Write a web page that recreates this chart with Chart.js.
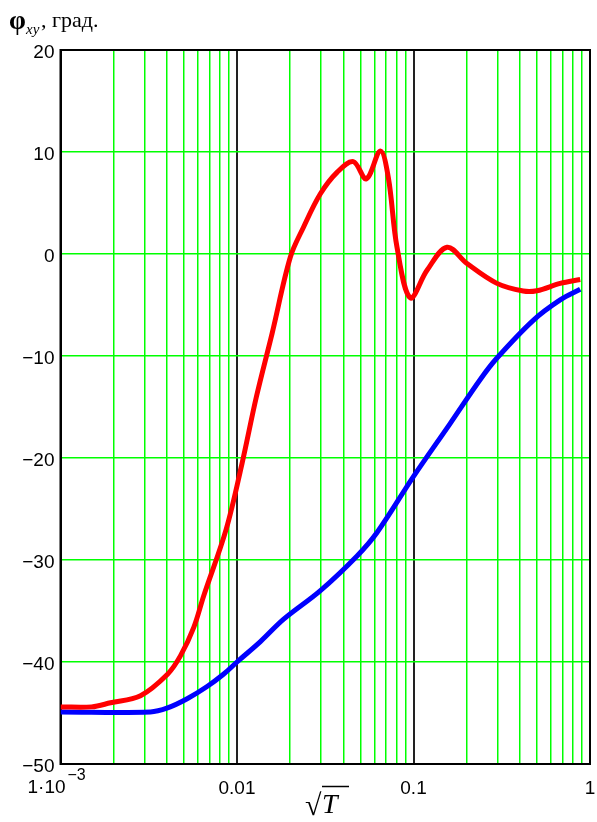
<!DOCTYPE html>
<html>
<head>
<meta charset="utf-8">
<script src="https://cdn.jsdelivr.net/npm/chart.js@4/dist/chart.umd.min.js"></script>
<style>
html,body{margin:0;padding:0;background:#fff;}
#wrap{width:597px;height:822px;position:relative;}
</style>
</head>
<body>
<div id="wrap"><canvas id="c" width="597" height="822"></canvas></div>
<script>
// sqrt(T) values (x) and phase angle, degrees (y)
const redX = [0.001, 0.0015, 0.00192, 0.00284, 0.00404, 0.00478, 0.00569, 0.00648, 0.00868, 0.01069, 0.01288, 0.0158, 0.02006, 0.02377, 0.02968, 0.03687, 0.04561, 0.05403, 0.06486, 0.072, 0.08064, 0.0959, 0.1193, 0.1548, 0.2009, 0.2971, 0.4183, 0.5002, 0.678, 0.88];
const redY = [-44.4, -44.4, -44.0, -43.3, -41.2, -39.4, -36.6, -33.5, -27.0, -20.5, -14.0, -7.8, -0.3, 2.6, 5.9, 8.0, 9.06, 7.37, 10.1, 7.5, 0.66, -4.3, -1.6, 0.66, -0.93, -2.88, -3.63, -3.6, -2.88, -2.5];
const blueX = [0.001, 0.00323, 0.00404, 0.00522, 0.00677, 0.00838, 0.01, 0.01357, 0.01838, 0.02968, 0.04788, 0.06214, 0.1001, 0.1616, 0.2389, 0.2971, 0.477, 0.678, 0.88];
const blueY = [-44.9, -44.9, -44.5, -43.6, -42.4, -41.2, -40.0, -38.0, -35.8, -33.0, -29.6, -27.3, -21.8, -16.6, -12.3, -10.2, -6.5, -4.5, -3.45];
const yTicks = [-50, -40, -30, -20, -10, 0, 10, 20];
const xLabels = {0.01: '0.01', 0.1: '0.1', 1: '1'};

Chart.defaults.font.family = "'Liberation Sans', Arial, sans-serif";
Chart.defaults.color = '#000';

const toPts = (xs, ys) => xs.map((x, i) => ({x: x, y: ys[i]}));
const isDecade = v => Math.abs(Math.log10(v) - Math.round(Math.log10(v))) < 1e-6;

const decor = {
  id: 'decor',
  beforeDatasetsDraw(chart) {
    const {ctx, chartArea: a} = chart;
    ctx.save();
    ctx.strokeStyle = '#000';
    ctx.lineWidth = 2;
    ctx.strokeRect(a.left, a.top, a.right - a.left, a.bottom - a.top);
    ctx.restore();
  },
  afterDraw(chart) {
    const {ctx} = chart;
    const xs = chart.scales.x;
    ctx.save();
    ctx.fillStyle = '#000';
    ctx.strokeStyle = '#000';
    ctx.textBaseline = 'alphabetic';
    // 1·10^-3 label
    const x0 = xs.getPixelForValue(0.001);
    ctx.font = "19px 'Liberation Sans', Arial, sans-serif";
    ctx.textAlign = 'left';
    ctx.fillText('1\u00b710', x0 - 33, 793);
    ctx.font = "16px 'Liberation Sans', Arial, sans-serif";
    ctx.fillText('\u22123', x0 + 7, 780);
    // axis title sqrt(T)
    ctx.font = "30px 'Liberation Serif', 'Times New Roman', serif";
    ctx.fillText('\u221a', 305, 815);
    ctx.font = "italic 28px 'Liberation Serif', 'Times New Roman', serif";
    ctx.fillText('T', 322, 813);
    ctx.lineWidth = 1.5;
    ctx.beginPath();
    ctx.moveTo(322, 786.5);
    ctx.lineTo(349, 786.5);
    ctx.stroke();
    // y title
    ctx.font = "bold 27px 'Liberation Serif', 'Times New Roman', serif";
    ctx.fillText('\u03c6', 9, 29);
    ctx.font = "italic 15px 'Liberation Serif', 'Times New Roman', serif";
    ctx.fillText('xy', 26, 34);
    ctx.font = "22px 'Liberation Serif', 'Times New Roman', serif";
    ctx.fillText(', \u0433\u0440\u0430\u0434.', 41, 27);
    ctx.restore();
  }
};

new Chart(document.getElementById('c'), {
  type: 'line',
  data: {
    datasets: [
      {data: toPts(redX, redY), borderColor: '#ff0000', borderWidth: 5, pointRadius: 0, tension: 0.35, fill: false},
      {data: toPts(blueX, blueY), borderColor: '#0000ff', borderWidth: 5, pointRadius: 0, tension: 0.35, fill: false}
    ]
  },
  options: {
    responsive: false,
    animation: false,
    layout: {padding: {top: 50, right: 7, left: 0, bottom: 0}},
    plugins: {legend: {display: false}, tooltip: {enabled: false}},
    scales: {
      x: {
        type: 'logarithmic',
        min: 0.001, max: 1,
        afterFit(s) { s.height = 58; s.paddingRight = 0; s.paddingLeft = 0; },
        afterBuildTicks(s) {
          const t = [];
          [-3, -2, -1].forEach(e => { for (let m = 1; m <= 9; m++) t.push({value: +(m * Math.pow(10, e)).toPrecision(6)}); });
          t.push({value: 1});
          s.ticks = t;
        },
        grid: {
          drawTicks: false,
          lineWidth: ctx => (ctx.tick && isDecade(ctx.tick.value)) ? 2 : 1.5,
          color: ctx => (ctx.tick && isDecade(ctx.tick.value)) ? '#222' : '#00ff00'
        },
        border: {color: '#000', width: 2},
        ticks: {
          autoSkip: false, maxRotation: 0, padding: 13,
          font: {size: 19},
          callback: v => { for (const k in xLabels) { if (Math.abs(+k - v) < 1e-9) return xLabels[k]; } return ''; }
        }
      },
      y: {
        min: -50, max: 20,
        afterFit(s) { s.width = 60.5; s.paddingTop = 0; s.paddingBottom = 0; },
        afterBuildTicks(s) { s.ticks = yTicks.map(v => ({value: v})); },
        grid: {drawTicks: false, color: '#00ff00', lineWidth: 1.5},
        border: {color: '#000', width: 2},
        ticks: {
          padding: 6, labelOffset: 3,
          font: {size: 19},
          callback: v => (v < 0 ? '\u2212' + Math.abs(v) : String(v))
        }
      }
    }
  },
  plugins: [decor]
});
</script>
</body>
</html>
